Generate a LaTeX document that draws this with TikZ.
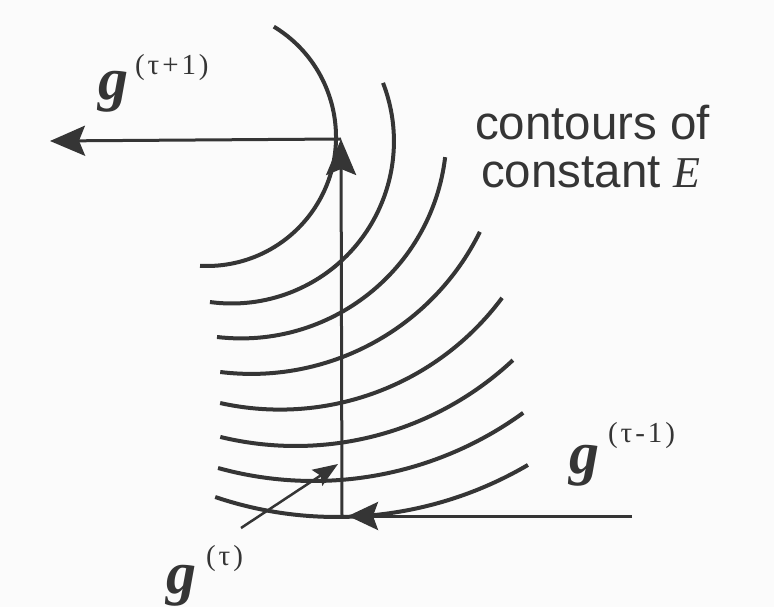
\documentclass[tikz,border=0pt]{standalone}
\usepackage{fontspec}
\setmainfont{Liberation Serif}
\newfontfamily\sansfam{Liberation Sans}
\newfontfamily\supfam[LetterSpace=10]{Liberation Serif}
\usetikzlibrary{arrows.meta}
\definecolor{ink}{HTML}{353535}
\definecolor{bgc}{HTML}{FBFBFB}
\begin{document}
\begin{tikzpicture}[x=1pt,y=-1pt,
  contour/.style={draw=ink,line width=4pt},
  vec/.style={draw=ink,line width=3pt},
  gsym/.style={inner sep=0pt,anchor=base west,text=ink,font=\fontsize{60}{60}\selectfont\bfseries\itshape},
  gsup/.style={inner sep=0pt,anchor=base west,text=ink,font=\supfam\fontsize{29}{29}\selectfont},
  caption/.style={inner sep=0pt,anchor=base west,text=ink,font=\sansfam\fontsize{47.5}{48}\selectfont},
]
\fill[bgc] (0,0) rectangle (774,607);
\useasboundingbox (0,0) rectangle (774,607);

% contours of constant E
\draw[contour] (207,137) ++(-58.8:129) arc[start angle=-58.8,end angle=93.1,radius=129];
\draw[contour] (231.7,141.3) ++(-21.1:162.2) arc[start angle=-21.1,end angle=97.7,radius=162.2];
\draw[contour] (241,132.8) ++(6.8:205.6) arc[start angle=6.8,end angle=96.7,radius=205.6];
\draw[contour] (251.3,118.9) ++(26.3:255) arc[start angle=26.3,end angle=97.0,radius=255];
\draw[contour] (280,133) ++(36.6:276.6) arc[start angle=36.6,end angle=102.5,radius=276.6];
\draw[contour] (295.6,128) ++(46.9:318) arc[start angle=46.9,end angle=103.7,radius=318];
\draw[contour] (313.4,124.1) ++(54.0:356.9) arc[start angle=54.0,end angle=105.5,radius=356.9];
\draw[contour] (336.5,138.7) ++(59.6:378.3) arc[start angle=59.6,end angle=108.7,radius=378.3];

% search directions
\coordinate (A) at (632,516);
\coordinate (B) at (342,516);
\coordinate (C) at (341,139);
\coordinate (D) at (50,141);
\coordinate (E) at (241,528);
\coordinate (F) at (338,464);
\draw[vec,-{Stealth[length=30pt,width=28pt,inset=5pt]},shorten >=6pt] (A) -- (B);
\draw[vec,-{Stealth[length=36pt,width=30pt,inset=6pt]}] (B) -- (C);
\draw[vec,-{Stealth[length=35pt,width=30pt,inset=6pt]}] (C) -- (D);
\draw[draw=ink,line width=2.5pt,-{Stealth[length=25pt,width=19pt,inset=4pt]}] (E) -- (F);

% labels
\node[gsym] (g1) at (98,100) {g};
\node[gsup] (s1) at (135,75) {(τ+1)};
\node[gsym] (g0) at (569,473) {g};
\node[gsup] (s0) at (608,442) {(τ-1)};
\node[gsym] (gt) at (166,593) {g};
\node[gsup] (st) at (206,565) {(τ)};

\node[caption] (c1) at (475,140) {contours of};
\node[caption] (c2) at (481,188) {constant \fontsize{44}{44}\rmfamily\itshape E};
\end{tikzpicture}
\end{document}
